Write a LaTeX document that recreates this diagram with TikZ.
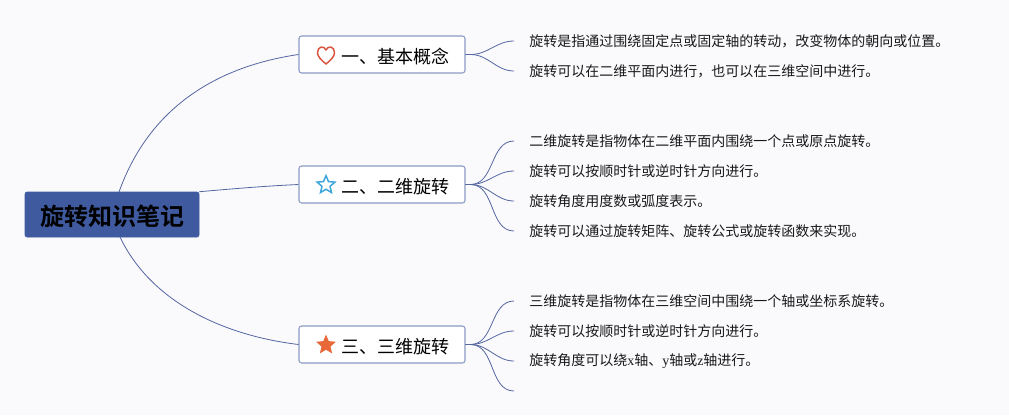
\documentclass[tikz,border=0pt]{standalone}
\usepackage{fontspec}
\usepackage{xcolor}
\usetikzlibrary{shapes.geometric}
\newfontfamily\cjk{Noto Sans CJK SC}
\newfontfamily\cjkb{Noto Sans CJK SC Bold}
\newfontfamily\latn{Liberation Serif}
\definecolor{rootblue}{HTML}{3F5A9E}
\definecolor{linkblue}{HTML}{5566A0}
\definecolor{boxline}{HTML}{8C9BC4}
\definecolor{paper}{HTML}{FAFAFD}
\definecolor{heartred}{HTML}{D9533F}
\definecolor{starblue}{HTML}{3BA5DC}
\definecolor{starorange}{HTML}{E8683A}
\tikzset{
	rootnode/.style={draw=rootblue,fill=rootblue,rounded corners=1.5pt,minimum width=130.5pt,minimum height=33.75pt,inner sep=0pt,font=\cjkb\fontsize{18pt}{20pt}\selectfont},
	branchnode/.style={draw=boxline,fill=white,line width=.8pt,rounded corners=2pt,minimum width=124.5pt,minimum height=27.75pt,inner sep=0pt},
	branchtext/.style={inner sep=0pt,anchor=west,font=\cjk\fontsize{13.5pt}{16pt}\selectfont,text=black},
	leafnode/.style={anchor=west,inner xsep=11.25pt,inner ysep=0pt,font=\cjk\fontsize{10.5pt}{13pt}\selectfont,text=black!90},
	starnode/.style={star,star points=5,star point ratio=2.2,minimum size=14pt,inner sep=0pt},
	link/.style={draw=linkblue,line width=.6pt},
}
\begin{document}
\begin{tikzpicture}[x=.75pt,y=-.75pt]
	\fill[paper](0,0)rectangle(1009,415);
	\useasboundingbox(0,0)rectangle(1009,415);
	% root and its three branches
	\node[rootnode](root)at(112,214.5){};
	\node[branchnode](bOne)at(382,54.5){};
	\node[branchnode](bTwo)at(382,184.5){};
	\node[branchnode](bThree)at(382,344.5){};
	\coordinate(rootUp)at(119,192);
	\coordinate(rootDown)at(120,237);
	\draw[link](rootUp).. controls (150,105) and (220,66) ..(bOne.west);
	\draw[link](root.north east).. controls (230,189) and (265,186) ..(bTwo.west);
	\draw[link](rootDown).. controls (150,300) and (220,335) ..(bThree.west);
	\node[inner sep=0pt,font=\cjkb\fontsize{18pt}{20pt}\selectfont](rootText)at(112.5,216.5){旋转知识笔记};
	% branch labels and icons
	\node[branchtext](tOne)at(341.5,57){一、基本概念};
	\node[branchtext](tTwo)at(341.5,187){二、二维旋转};
	\node[branchtext](tThree)at(341.5,347){三、三维旋转};
	\draw[heartred,line width=1.1pt,line join=round](326,64).. controls (320,59) and (317.5,56) ..(317.5,52.5).. controls (317.5,46.5) and (324,45) ..(326,50).. controls (328,45) and (334.5,46.5) ..(334.5,52.5).. controls (334.5,56) and (332,59) ..(326,64)--cycle;
	\node[starnode,draw=starblue,line width=1.1pt](iconTwo)at(326,185){};
	\node[starnode,draw=starorange,fill=starorange,line width=.6pt](iconThree)at(326,345){};
	% leaves
	\node[leafnode](a1)at(514,41){旋转是指通过围绕固定点或固定轴的转动，改变物体的朝向或位置。};
	\node[leafnode](a2)at(514,71){旋转可以在二维平面内进行，也可以在三维空间中进行。};
	\node[leafnode](b1)at(514,141){二维旋转是指物体在二维平面内围绕一个点或原点旋转。};
	\node[leafnode](b2)at(514,171){旋转可以按顺时针或逆时针方向进行。};
	\node[leafnode](b3)at(514,201){旋转角度用度数或弧度表示。};
	\node[leafnode](b4)at(514,231){旋转可以通过旋转矩阵、旋转公式或旋转函数来实现。};
	\node[leafnode](c1)at(514,301){三维旋转是指物体在三维空间中围绕一个轴或坐标系旋转。};
	\node[leafnode](c2)at(514,331){旋转可以按顺时针或逆时针方向进行。};
	\node[leafnode](c3)at(514,361){旋转角度可以绕{\latn x}轴、{\latn y}轴或{\latn z}轴进行。};
	\coordinate(c4)at(514,391);
	% connectors
	\foreach \leaf in {a1,a2}
		\draw[link](bOne.east)--++(5,0)to[out=0,in=180](\leaf.west);
	\foreach \leaf in {b1,b2,b3,b4}
		\draw[link](bTwo.east)--++(5,0)to[out=0,in=180](\leaf.west);
	\foreach \leaf in {c1,c2,c3}
		\draw[link](bThree.east)--++(5,0)to[out=0,in=180](\leaf.west);
	\draw[link](bThree.east)--++(5,0)to[out=0,in=180](c4);
\end{tikzpicture}
\end{document}
